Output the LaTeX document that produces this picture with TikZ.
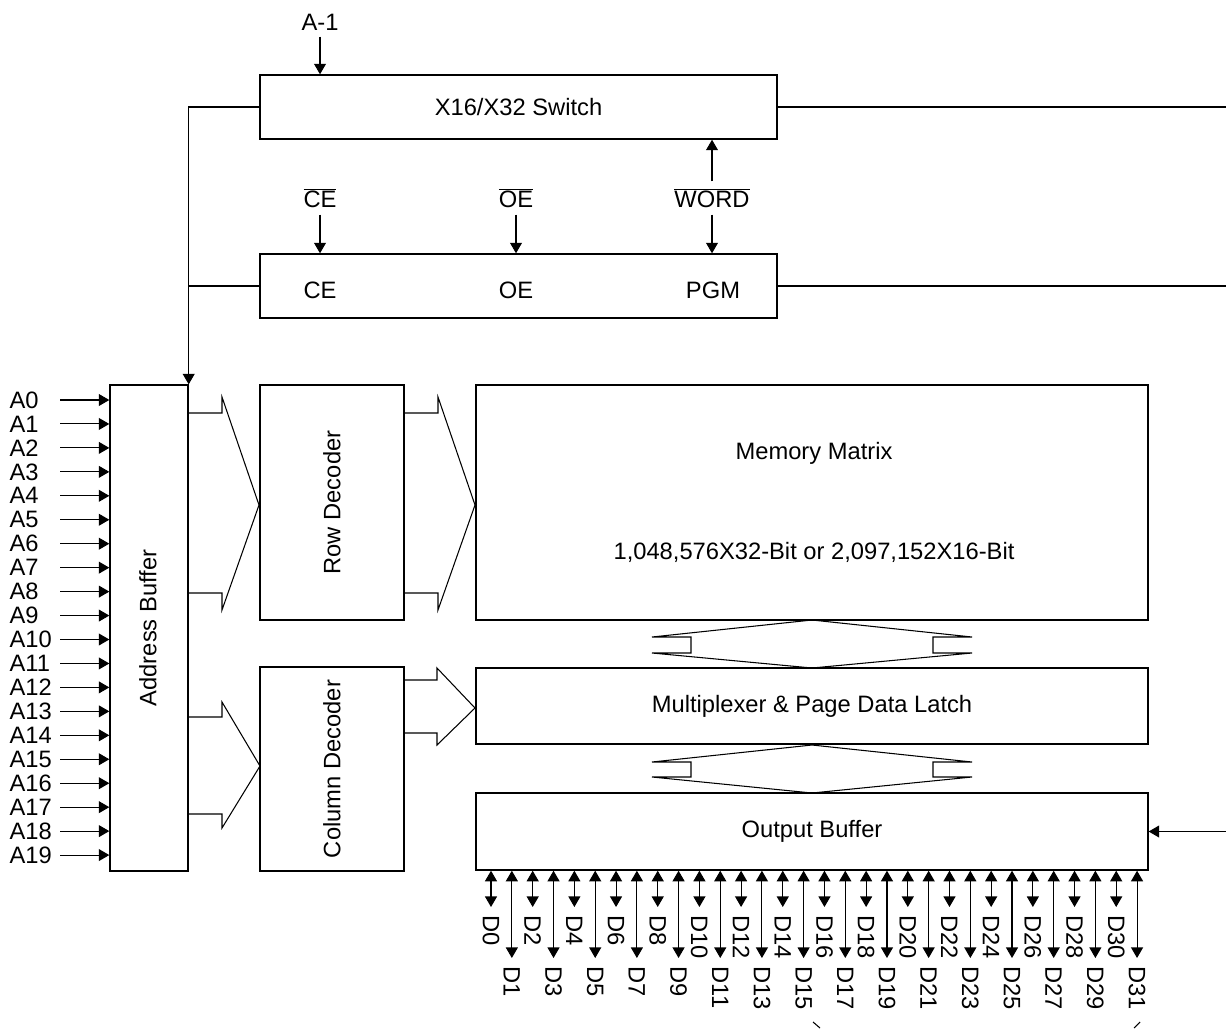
\documentclass[tikz,border=0pt]{standalone}
\usepackage{fontspec}
\setmainfont{Liberation Sans}
\usetikzlibrary{arrows.meta}

\begin{document}
\begin{tikzpicture}[x=0.02cm, y=-0.02cm, line width=0.6pt,
  font=\fontsize{13.5}{16}\selectfont,
  >={Triangle[length=6pt,width=6.8pt]},
  blk/.style={draw, line width=0.8pt, inner sep=0pt}]

\useasboundingbox (0,0) rectangle (1226,1028);

% control blocks
\node[blk, minimum width=10.34cm, minimum height=1.28cm] (sw) at (518.5,107) {X16/X32 Switch};
\node[blk, minimum width=10.34cm, minimum height=1.28cm] (ctl) at (518.5,286) {};
\node (ce) at (320,290) {CE};
\node (oe) at (516,290) {OE};
\node (pgm) at (713,290) {PGM};

\node (am1) at (320,22) {A-1};
\draw [->] (am1) -- (am1 |- sw.north);

\node (nce) at (320,198) {$\overline{\mbox{CE}}$};
\node (noe) at (516,198) {$\overline{\mbox{OE}}$};
\node (nword) at (712,198) {$\overline{\mbox{WORD}}$};
\draw [->] (nce) -- (nce |- ctl.north);
\draw [->] (noe) -- (noe |- ctl.north);
\draw [->] (nword) -- (nword |- ctl.north);
\draw [->] (nword) -- (nword |- sw.south);

% main blocks
\node[blk, minimum width=1.56cm, minimum height=9.72cm] (ab) at (149,628) {};
\node[rotate=90] (abt) at (148,628) {Address Buffer};

\node[blk, minimum width=2.88cm, minimum height=4.7cm] (rd) at (332,502.5) {};
\node[rotate=90] (rdt) at (332,502.5) {Row Decoder};

\node[blk, minimum width=2.88cm, minimum height=4.08cm] (cd) at (332,769) {};
\node[rotate=90] (cdt) at (332,769) {Column Decoder};

\node[blk, minimum width=13.44cm, minimum height=4.7cm] (mm) at (812,502.5) {};
\node (mmt) at (814,453) {Memory Matrix};
\node (mms) at (814,552) {1,048,576X32-Bit or 2,097,152X16-Bit};

\node[blk, minimum width=13.44cm, minimum height=1.52cm] (mux) at (812,706) {Multiplexer \& Page Data Latch};
\node[blk, minimum width=13.44cm, minimum height=1.54cm] (ob) at (812,831.5) {Output Buffer};

% lines to the right edge
\coordinate (rt) at (1226,0);
\draw (sw.east) -- (sw.east -| rt);
\draw (ctl.east) -- (ctl.east -| rt);
\draw [->] (ob.east -| rt) -- (ob.east);

% feedback into the address buffer
\draw [->] (sw.west) -| (ab.north east);
\draw (ctl.west) -- (ctl.west -| ab.north east);

% address pins
\foreach \i in {0,...,19} {
  \pgfmathsetmacro{\y}{400+\i*23.95}
  \node[anchor=west, inner sep=0pt] (a\i) at (9,\y) {A\i};
  \coordinate (s\i) at (60,\y);
  \draw [->] (s\i) -- (s\i -| ab.west);
}

% buses
\draw (188,413) -- (222,413) -- (222,397) -- (259,505) -- (222,610) -- (222,593) -- (188,593);
\draw (404,413) -- (438,413) -- (438,397) -- (475,505) -- (438,610) -- (438,593) -- (404,593);
\draw (188,717) -- (222,717) -- (222,702) -- (260,766) -- (222,828) -- (222,814) -- (188,814);
\draw (404,680) -- (437,680) -- (437,668) -- (475,708) -- (437,745) -- (437,733) -- (404,733);

\draw (812,620) -- (652,637) -- (691,637) -- (691,653) -- (652,653) -- (812,668)
  -- (972,653) -- (933,653) -- (933,637) -- (972,637) -- cycle;
\draw (812,745) -- (652,762) -- (691,762) -- (691,777) -- (652,777) -- (812,793)
  -- (972,777) -- (933,777) -- (933,762) -- (972,762) -- cycle;

% data pins
\foreach \i in {0,...,31} {
  \pgfmathsetmacro{\x}{491+\i*20.84}
  \ifodd\i \def\e{958}\else \def\e{907}\fi
  \pgfmathsetmacro{\ly}{\e+8}
  \coordinate (d\i) at (\x,\e);
  \draw [<->] (d\i |- ob.south) -- (d\i);
  \node[rotate=-90, anchor=west, inner sep=0pt] (dl\i) at (\x,\ly) {D\i};
}

\draw (813,1022) -- (820,1028);
\draw (1140,1022) -- (1134,1028);

\end{tikzpicture}
\end{document}
